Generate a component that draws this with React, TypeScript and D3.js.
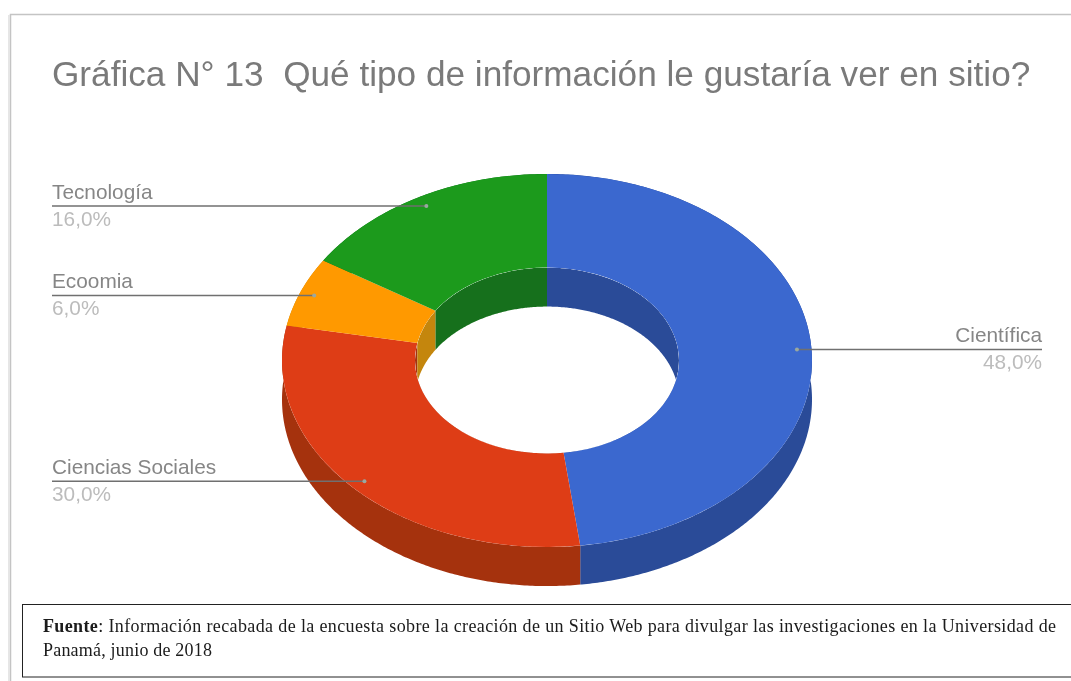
import React from "react";
import * as d3 from "d3";

const categories = ["Científica", "Ciencias Sociales", "Ecoomia", "Tecnología"];
const shares = [48, 30, 6, 16];
const topColors = ["#3A67CF", "#DE3E16", "#FF9900", "#1A9A1F"];
const wallColors = ["#2A4B98", "#A5300F", "#C4860C", "#14701A"];
const titleText = "Gráfica N° 13  Qué tipo de información le gustaría ver en sitio?";
const sourceLine1 = ": Información recabada de la encuesta sobre la creación de un Sitio Web para divulgar las investigaciones en la Universidad de";
const sourceLine2 = "Panamá, junio de 2018";

const W = 1071, H = 681;
const cx = 547, cy = 360.5, R = 265, r = 132, squash = 0.704, depth = 39;
const sans = "'Liberation Sans', Arial, sans-serif";
const serif = "'Liberation Serif', 'Times New Roman', serif";

const pie = d3.pie<number>().sort(null).value((d) => d);
const arcs = pie(shares);
const ringArc = d3.arc<d3.PieArcDatum<number>>().innerRadius(r).outerRadius(R);
const pct = d3.format(".1f");
const leaderRadius = 0.945 * R;

// Side wall of a slice: the band between an ellipse arc and the same arc moved down by the depth.
const wall = (a: d3.PieArcDatum<number>, radius: number) => {
  const angles = [...d3.range(a.startAngle, a.endAngle, 0.01), a.endAngle];
  return (
    d3
      .area<number>()
      .x((t) => cx + Math.sin(t) * radius)
      .y0((t) => cy - Math.cos(t) * radius * squash)
      .y1((t) => cy - Math.cos(t) * radius * squash + depth)(angles) ?? ""
  );
};

export default function App() {
  return (
    <svg width={W} height={H} viewBox={`0 0 ${W} ${H}`} style={{ position: "absolute", left: 0, top: 0, background: "#fff" }}>
      <defs>
        <clipPath id="hole">
          <ellipse cx={cx} cy={cy} rx={r} ry={r * squash} />
        </clipPath>
        <filter id="soft" x="-5%" y="-5%" width="110%" height="110%">
          <feGaussianBlur stdDeviation="0.45" />
        </filter>
        <filter id="softer" x="-5%" y="-20%" width="110%" height="140%">
          <feGaussianBlur stdDeviation="0.6" />
        </filter>
      </defs>

      <path d={`M10.5 ${H} V14.5 H${W}`} fill="none" stroke="#c4c4c4" strokeWidth={1.5} />
      <line x1={9} x2={9} y1={15} y2={H} stroke="#e6e6e6" strokeWidth={2} />

      <text x={52} y={85.5} fontFamily={sans} fontSize={35.2} fill="#7a7a7a" filter="url(#soft)" xmlSpace="preserve">{titleText}</text>

      <g filter="url(#soft)">
        {arcs.map((a, i) => (
          <path key={`o${i}`} d={wall(a, R)} fill={wallColors[i]} />
        ))}
        {arcs.map((a, i) => (
          <path key={`t${i}`} d={ringArc(a) ?? ""} transform={`translate(${cx},${cy}) scale(1,${squash})`} fill={topColors[i]} />
        ))}
        <g clipPath="url(#hole)">
          <ellipse cx={cx} cy={cy} rx={r} ry={r * squash} fill="#fff" />
          {arcs.map((a, i) => (
            <path key={`n${i}`} d={wall(a, r)} fill={wallColors[i]} />
          ))}
        </g>
      </g>

      {arcs.map((a, i) => {
        const mid = (a.startAngle + a.endAngle) / 2;
        const px = cx + Math.sin(mid) * leaderRadius;
        const py = cy - Math.cos(mid) * leaderRadius * squash;
        const right = Math.sin(mid) > 0;
        const tx = right ? 1042 : 52;
        const anchor = right ? "end" : "start";
        return (
          <g key={categories[i]} filter="url(#softer)">
            <line x1={px} x2={tx} y1={py} y2={py} stroke="#6f6f6f" strokeWidth={1.5} />
            <circle cx={px} cy={py} r={2} fill="#9aa8a0" />
            <text x={tx} y={py - 7.5} textAnchor={anchor} fontFamily={sans} fontSize={20.8} fill="#868686">{categories[i]}</text>
            <text x={tx} y={py + 19.5} textAnchor={anchor} fontFamily={sans} fontSize={20.8} fill="#bcbcbc">{pct(a.data).replace(".", ",")}%</text>
          </g>
        );
      })}

      <rect x={22.5} y={604.5} width={W} height={72.5} fill="#fff" stroke="#222" strokeWidth={1} />
      <g filter="url(#soft)">
        <text x={43} y={632} fontFamily={serif} fontSize={18} fill="#1a1a1a" textLength={1013} lengthAdjust="spacing">
          <tspan fontWeight="bold">Fuente</tspan>{sourceLine1}
        </text>
        <text x={43} y={656} fontFamily={serif} fontSize={18} fill="#1a1a1a" letterSpacing={0.2}>{sourceLine2}</text>
      </g>
    </svg>
  );
}
